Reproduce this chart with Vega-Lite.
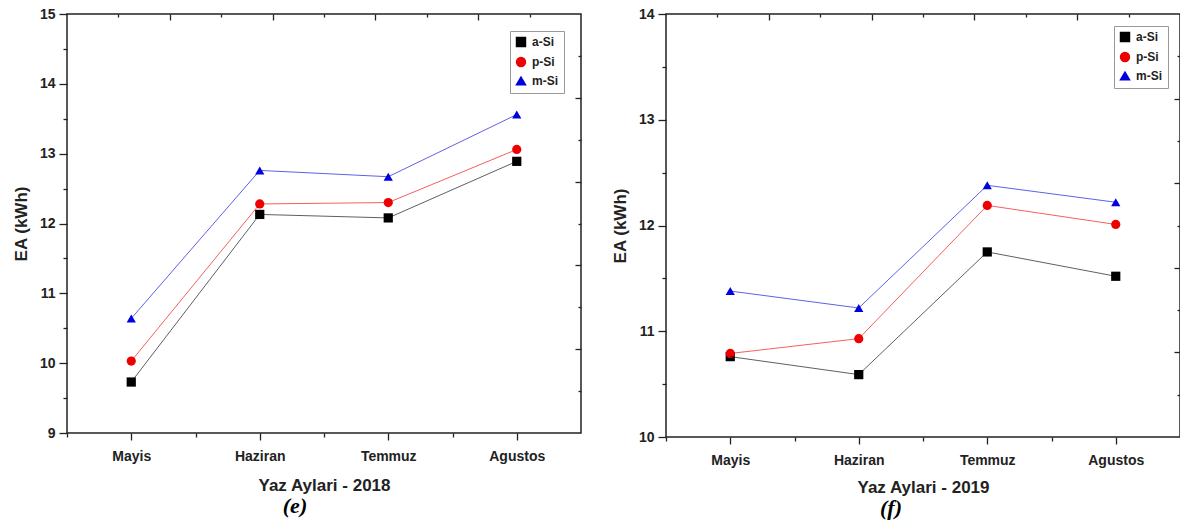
{
  "$schema": "https://vega.github.io/schema/vega-lite/v6.json",
  "background": "white",
  "padding": {"left": 11, "top": 6, "right": 0, "bottom": 0},
  "config": {
    "font": "Liberation Sans",
    "view": {"stroke": "#222", "strokeWidth": 1.5},
    "axis": {"domain": false, "grid": false, "tickColor": "#222", "tickWidth": 1.3, "labelColor": "#222", "titleColor": "#222"}
  },
  "datasets": {
    "ea": [
      {"yil": 2018, "ay": "Mayis", "seri": "a-Si", "EA": 9.73},
      {"yil": 2018, "ay": "Haziran", "seri": "a-Si", "EA": 12.13},
      {"yil": 2018, "ay": "Temmuz", "seri": "a-Si", "EA": 12.08},
      {"yil": 2018, "ay": "Agustos", "seri": "a-Si", "EA": 12.89},
      {"yil": 2018, "ay": "Mayis", "seri": "p-Si", "EA": 10.03},
      {"yil": 2018, "ay": "Haziran", "seri": "p-Si", "EA": 12.28},
      {"yil": 2018, "ay": "Temmuz", "seri": "p-Si", "EA": 12.30},
      {"yil": 2018, "ay": "Agustos", "seri": "p-Si", "EA": 13.06},
      {"yil": 2018, "ay": "Mayis", "seri": "m-Si", "EA": 10.64},
      {"yil": 2018, "ay": "Haziran", "seri": "m-Si", "EA": 12.76},
      {"yil": 2018, "ay": "Temmuz", "seri": "m-Si", "EA": 12.67},
      {"yil": 2018, "ay": "Agustos", "seri": "m-Si", "EA": 13.56},
      {"yil": 2019, "ay": "Mayis", "seri": "a-Si", "EA": 10.76},
      {"yil": 2019, "ay": "Haziran", "seri": "a-Si", "EA": 10.59},
      {"yil": 2019, "ay": "Temmuz", "seri": "a-Si", "EA": 11.75},
      {"yil": 2019, "ay": "Agustos", "seri": "a-Si", "EA": 11.52},
      {"yil": 2019, "ay": "Mayis", "seri": "p-Si", "EA": 10.79},
      {"yil": 2019, "ay": "Haziran", "seri": "p-Si", "EA": 10.93},
      {"yil": 2019, "ay": "Temmuz", "seri": "p-Si", "EA": 12.19},
      {"yil": 2019, "ay": "Agustos", "seri": "p-Si", "EA": 12.01},
      {"yil": 2019, "ay": "Mayis", "seri": "m-Si", "EA": 11.38},
      {"yil": 2019, "ay": "Haziran", "seri": "m-Si", "EA": 11.22},
      {"yil": 2019, "ay": "Temmuz", "seri": "m-Si", "EA": 12.38},
      {"yil": 2019, "ay": "Agustos", "seri": "m-Si", "EA": 12.22}
    ],
    "frame": [{"t": 0}, {"t": 10}]
  },
  "spacing": 25,
  "resolve": {"scale": {"color": "independent", "shape": "independent"}, "legend": {"color": "independent", "shape": "independent"}},
  "hconcat": [
    {
      "width": 514,
      "height": 419,
      "data": {"name": "ea"},
      "transform": [{"filter": "datum.yil === 2018"}],
      "title": {"text": "(e)", "orient": "bottom", "frame": "group", "anchor": "middle", "dx": -29, "offset": 3, "font": "Liberation Serif", "fontStyle": "italic", "fontWeight": "bold", "fontSize": 22, "color": "#000"},
      "resolve": {"scale": {"x": "independent", "y": "independent"}, "axis": {"x": "independent", "y": "independent"}},
      "layer": [
        {
          "mark": {"type": "point", "filled": true, "opacity": 1, "size": 85},
          "encoding": {
            "x": {"field": "ay", "type": "nominal", "sort": ["Mayis", "Haziran", "Temmuz", "Agustos"], "scale": {"type": "point", "padding": 0.5, "domain": ["Mayis", "Haziran", "Temmuz", "Agustos"]},
              "axis": {"orient": "bottom", "title": null, "labels": false, "tickSize": 4, "tickOffset": -64.25}},
            "y": {"field": "EA", "type": "quantitative", "scale": {"domain": [9, 15], "nice": false, "zero": false},
              "axis": {"orient": "left", "values": [9.5, 10.5, 11.5, 12.5, 13.5, 14.5], "title": null, "labels": false, "tickSize": 4}},
            "color": {"field": "seri", "type": "nominal", "scale": {"domain": ["a-Si", "p-Si", "m-Si"], "range": ["#000000", "#ee0000", "#0000dd"]},
              "legend": {"title": null, "orient": "top-right", "offset": 17, "padding": 5, "strokeColor": "#999", "fillColor": "white", "labelFontSize": 12, "labelFontWeight": "bold", "labelColor": "#222", "symbolSize": 80, "rowPadding": 4, "labelOffset": 5}},
            "shape": {"field": "seri", "type": "nominal", "scale": {"domain": ["a-Si", "p-Si", "m-Si"], "range": ["square", "circle", "triangle-up"]},
              "legend": {"title": null, "orient": "top-right", "offset": 17, "padding": 5, "strokeColor": "#999", "fillColor": "white", "labelFontSize": 12, "labelFontWeight": "bold", "labelColor": "#222", "symbolSize": 80, "rowPadding": 4, "labelOffset": 5}}
          }
        },
        {
          "mark": {"type": "line", "strokeWidth": 0.9, "strokeOpacity": 0.7},
          "encoding": {
            "x": {"field": "ay", "type": "nominal", "sort": ["Mayis", "Haziran", "Temmuz", "Agustos"], "scale": {"type": "point", "padding": 0.5, "domain": ["Mayis", "Haziran", "Temmuz", "Agustos"]},
              "axis": {"orient": "bottom", "title": "Yaz Aylari - 2018", "labelAngle": 0, "tickSize": 7, "labelPadding": 9, "labelFontSize": 14, "labelFontWeight": "bold", "titleFontSize": 17, "titleFontWeight": "bold", "titlePadding": 14}},
            "y": {"field": "EA", "type": "quantitative", "scale": {"domain": [9, 15], "nice": false, "zero": false},
              "axis": {"orient": "left", "values": [9, 10, 11, 12, 13, 14, 15], "title": "EA (kWh)", "tickSize": 8, "labelPadding": 4, "labelFontSize": 14, "labelFontWeight": "bold", "titleFontSize": 17, "titleFontWeight": "bold", "titlePadding": 9}},
            "color": {"field": "seri", "type": "nominal", "scale": {"domain": ["a-Si", "p-Si", "m-Si"], "range": ["#000000", "#ee0000", "#0000dd"]}}
          }
        },
        {
          "data": {"name": "frame"},
          "mark": {"type": "point", "opacity": 0},
          "encoding": {
            "x": {"field": "t", "type": "quantitative", "scale": {"domain": [0, 10], "nice": false, "zero": false},
              "axis": {"orient": "top", "title": null, "labels": false, "values": [1, 2, 3, 4, 5, 6, 7, 8, 9], "tickSize": {"condition": {"test": "datum.value % 2 === 0", "value": -6}, "value": -3}}},
            "y": {"field": "t", "type": "quantitative", "scale": {"domain": [0, 10], "nice": false, "zero": false},
              "axis": {"orient": "right", "title": null, "labels": false, "values": [1, 2, 3, 4, 5, 6, 7, 8, 9], "tickSize": {"condition": {"test": "datum.value % 2 === 0", "value": -6}, "value": -3}}}
          }
        }
      ]
    },
    {
      "width": 514,
      "height": 423,
      "data": {"name": "ea"},
      "transform": [{"filter": "datum.yil === 2019"}],
      "title": {"text": "(f)", "orient": "bottom", "frame": "group", "anchor": "middle", "dx": -32, "offset": 3, "font": "Liberation Serif", "fontStyle": "italic", "fontWeight": "bold", "fontSize": 22, "color": "#000"},
      "resolve": {"scale": {"x": "independent", "y": "independent"}, "axis": {"x": "independent", "y": "independent"}},
      "layer": [
        {
          "mark": {"type": "point", "filled": true, "opacity": 1, "size": 85},
          "encoding": {
            "x": {"field": "ay", "type": "nominal", "sort": ["Mayis", "Haziran", "Temmuz", "Agustos"], "scale": {"type": "point", "padding": 0.5, "domain": ["Mayis", "Haziran", "Temmuz", "Agustos"]},
              "axis": {"orient": "bottom", "title": null, "labels": false, "tickSize": 4, "tickOffset": -64.25}},
            "y": {"field": "EA", "type": "quantitative", "scale": {"domain": [10, 14], "nice": false, "zero": false},
              "axis": {"orient": "left", "values": [10.5, 11.5, 12.5, 13.5], "title": null, "labels": false, "tickSize": 4}},
            "color": {"field": "seri", "type": "nominal", "scale": {"domain": ["a-Si", "p-Si", "m-Si"], "range": ["#000000", "#ee0000", "#0000dd"]},
              "legend": {"title": null, "orient": "top-right", "offset": 12, "padding": 5, "strokeColor": "#999", "fillColor": "white", "labelFontSize": 12, "labelFontWeight": "bold", "labelColor": "#222", "symbolSize": 80, "rowPadding": 4, "labelOffset": 5}},
            "shape": {"field": "seri", "type": "nominal", "scale": {"domain": ["a-Si", "p-Si", "m-Si"], "range": ["square", "circle", "triangle-up"]},
              "legend": {"title": null, "orient": "top-right", "offset": 12, "padding": 5, "strokeColor": "#999", "fillColor": "white", "labelFontSize": 12, "labelFontWeight": "bold", "labelColor": "#222", "symbolSize": 80, "rowPadding": 4, "labelOffset": 5}}
          }
        },
        {
          "mark": {"type": "line", "strokeWidth": 0.9, "strokeOpacity": 0.7},
          "encoding": {
            "x": {"field": "ay", "type": "nominal", "sort": ["Mayis", "Haziran", "Temmuz", "Agustos"], "scale": {"type": "point", "padding": 0.5, "domain": ["Mayis", "Haziran", "Temmuz", "Agustos"]},
              "axis": {"orient": "bottom", "title": "Yaz Aylari - 2019", "labelAngle": 0, "tickSize": 7, "labelPadding": 9, "labelFontSize": 14, "labelFontWeight": "bold", "titleFontSize": 17, "titleFontWeight": "bold", "titlePadding": 12}},
            "y": {"field": "EA", "type": "quantitative", "scale": {"domain": [10, 14], "nice": false, "zero": false},
              "axis": {"orient": "left", "values": [10, 11, 12, 13, 14], "title": "EA (kWh)", "tickSize": 8, "labelPadding": 4, "labelFontSize": 14, "labelFontWeight": "bold", "titleFontSize": 17, "titleFontWeight": "bold", "titlePadding": 9}},
            "color": {"field": "seri", "type": "nominal", "scale": {"domain": ["a-Si", "p-Si", "m-Si"], "range": ["#000000", "#ee0000", "#0000dd"]}}
          }
        },
        {
          "data": {"name": "frame"},
          "mark": {"type": "point", "opacity": 0},
          "encoding": {
            "x": {"field": "t", "type": "quantitative", "scale": {"domain": [0, 10], "nice": false, "zero": false},
              "axis": {"orient": "top", "title": null, "labels": false, "values": [1, 2, 3, 4, 5, 6, 7, 8, 9], "tickSize": {"condition": {"test": "datum.value % 2 === 0", "value": -6}, "value": -3}}},
            "y": {"field": "t", "type": "quantitative", "scale": {"domain": [0, 10], "nice": false, "zero": false},
              "axis": {"orient": "right", "title": null, "labels": false, "values": [1, 2, 3, 4, 5, 6, 7, 8, 9], "tickSize": {"condition": {"test": "datum.value % 2 === 0", "value": -6}, "value": -3}}}
          }
        }
      ]
    }
  ]
}
